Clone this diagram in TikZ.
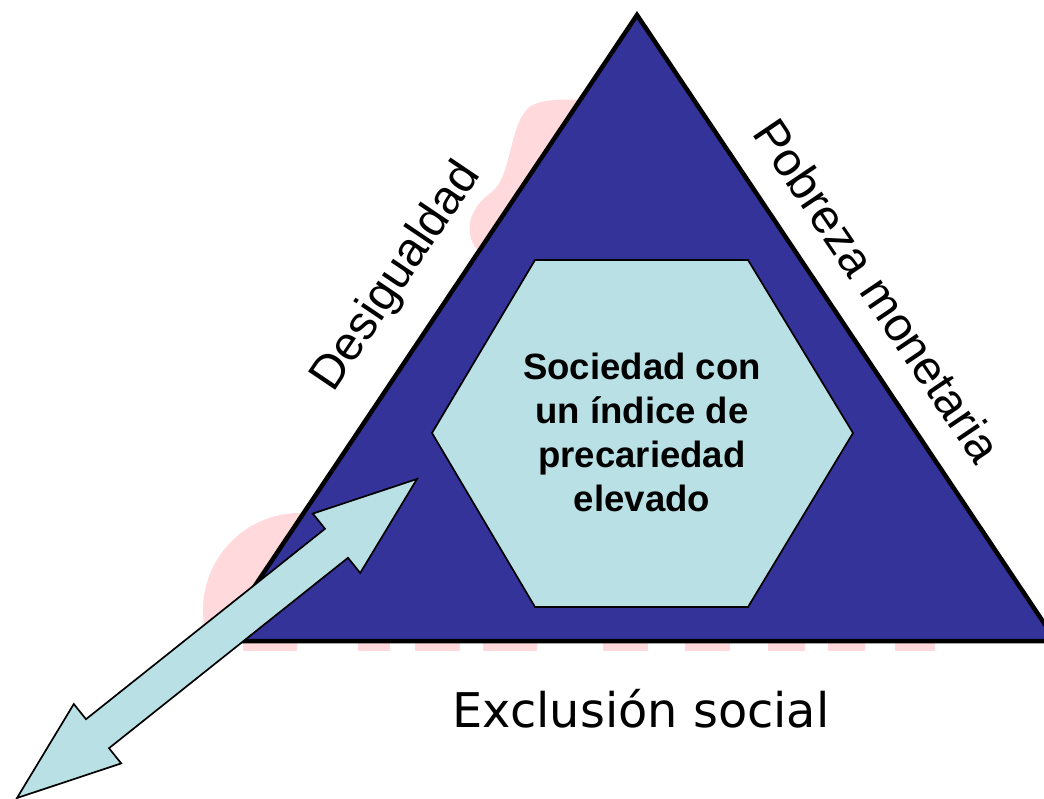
\documentclass[tikz,border=0pt]{standalone}
\usepackage{fontspec}
\setmainfont{Liberation Sans}
\newfontfamily\widefont{DejaVu Sans}
\definecolor{navy}{RGB}{51,51,153}
\definecolor{pale}{RGB}{185,224,228}
\definecolor{rosy}{RGB}{255,217,219}

\begin{document}
\begin{tikzpicture}[x=0.025cm, y=-0.025cm,
  sidelabel/.style={anchor=base, inner sep=0pt, font=\fontsize{33.8}{40}\selectfont}]
\useasboundingbox (0,0) rectangle (1044,799);
% faint marks behind the triangle
\fill[rosy] (480,253) .. controls (462,235) and (468,208) .. (492,192) .. controls (512,175) and (508,130) .. (528,108) .. controls (540,99) and (560,99) .. (585,100) -- (585,253) -- cycle;
\begin{scope}
\clip (190,500) rectangle (400,641);
\fill[rosy] (300,610) circle (97);
\end{scope}
\foreach \a/\b in {243/297,358/390,415/460,483/537,603/648,685/730,768/805,828/865,895/935}
  \fill[rosy] (\a,641) rectangle (\b,651);
% triangle
\draw[line width=3.2pt, fill=navy] (637,15) coordinate (apex) -- (218,641) coordinate (lc) -- (1056,641) coordinate (rc) -- cycle;
% hexagon
\draw[line width=1.2pt, fill=pale] (535,260) -- (748,260) -- (853,433) -- (748,607) -- (535,607) -- (432,433) -- cycle;
\node[align=center, font=\bfseries\fontsize{26}{31.3}\selectfont] (soc) at (642,432) {Sociedad con\\un índice de\\precariedad\\elevado};
% double block arrow
\draw[line width=1.2pt, fill=pale] (417,479) coordinate (tipa) -- (360.2,573.0) -- (348.0,557.8) -- (109.0,748.2) -- (121.2,763.4) -- (17,798) coordinate (tipb) -- (73.8,704.0) -- (86.0,719.2) -- (325.0,528.8) -- (312.8,513.6) -- cycle;
% labels
\node[sidelabel, rotate=56] (desig) at (407,284) {Desigualdad};
\node[sidelabel, rotate=-56] (pobreza) at (864,300) {Pobreza monetaria};
\node[anchor=base, font=\widefont\fontsize{34}{40}\selectfont] (exclu) at (641,727) {Exclusión social};
\end{tikzpicture}
\end{document}
